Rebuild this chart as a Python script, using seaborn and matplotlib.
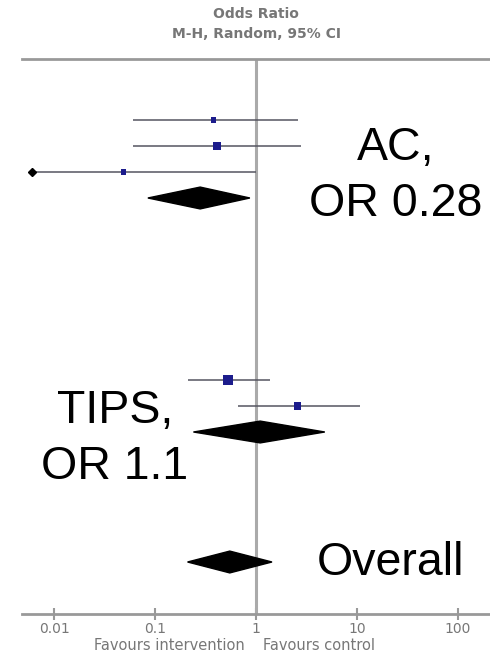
### Forest plot: AC vs TIPS, odds ratio ###

import numpy as np
import pandas as pd
import matplotlib
matplotlib.use('Agg')
import matplotlib.pyplot as plt
import seaborn as sns

# individual studies (row slot, OR, 95% CI, relative weight)
study_row = [0, 1, 2, 10, 11]
study_or = [0.38, 0.41, 0.049, 0.53, 2.6]
study_lo = [0.06, 0.06, 0.006, 0.21, 0.66]
study_hi = [2.6, 2.8, 1.0, 1.38, 10.7]
study_weight = [14, 22, 12, 40, 20]

# pooled estimates (diamonds)
pool_label = ['AC,\nOR 0.28', 'TIPS,\nOR 1.1', 'Overall']
pool_row = [3, 12, 17]
pool_or = [0.28, 1.1, 0.55]
pool_lo = [0.085, 0.24, 0.21]
pool_hi = [0.87, 4.8, 1.44]

tick_values = [0.01, 0.1, 1, 10, 100]
tick_labels = ['0.01', '0.1', '1', '10', '100']

sns.set_style('white')
plt.rcParams['font.family'] = ['Liberation Sans', 'DejaVu Sans']

fig = plt.figure(figsize=(4.9, 6.66), dpi=100)
ax = fig.add_axes([22 / 490, 1 - 614 / 666, 1 - 22 / 490, (614 - 59) / 666])

# null line
ax.axvline(1, color='#aaaaaa', lw=2.2, zorder=1)

# confidence intervals
ax.hlines(study_row, study_lo, study_hi, color='#555560', lw=1.1, zorder=2)
ax.plot(study_lo[2], study_row[2], marker='D', ms=4, color='black', zorder=3)

# study points
df = pd.DataFrame({'or': study_or, 'row': study_row, 'w': study_weight})
sns.scatterplot(data=df, x='or', y='row', size='w', sizes=(14, 55),
                marker='s', color='#1c1c8c', edgecolor='none',
                legend=False, ax=ax, zorder=3)

# pooled diamonds
h = 0.42
for r, est, lo, hi in zip(pool_row, pool_or, pool_lo, pool_hi):
    ax.fill([lo, est, hi, est], [r, r - h, r, r + h], color='black', zorder=4)

# annotations
text_pos = [(24.3, 1.54), (0.0402, 11.65), (21.7, 17.5)]
for label, (x, y) in zip(pool_label, text_pos):
    for i, line in enumerate(label.split('\n')):
        ax.text(x, y + i * 2.15, line, ha='center', va='baseline',
                fontsize=33.5, color='black', clip_on=False)

ax.set_xscale('log')
ax.set_xlim(10 ** -2.317, 10 ** 2.317)
ax.set_ylim(19.0, -2.346)
ax.set_xticks(tick_values)
ax.set_xticklabels(tick_labels)
ax.xaxis.set_minor_locator(matplotlib.ticker.NullLocator())
ax.set_yticks([])
ax.set_xlabel('')
ax.set_ylabel('')
ax.tick_params(axis='x', bottom=True, direction='inout', length=8, width=1.5,
               color='#999999', labelcolor='#777777', labelsize=10, pad=2)
for lab in ax.get_xticklabels():
    lab.set_family('DejaVu Sans')

for side in ['left', 'right']:
    ax.spines[side].set_visible(False)
for side in ['top', 'bottom']:
    ax.spines[side].set_color('#999999')
    ax.spines[side].set_linewidth(2)

# header
ax.text(1, -4.08, 'Odds Ratio', ha='center', va='center', fontsize=10,
        fontweight='bold', color='#777777', family='DejaVu Sans', clip_on=False)
ax.text(1, -3.31, 'M-H, Random, 95% CI', ha='center', va='center', fontsize=10,
        fontweight='bold', color='#777777', family='DejaVu Sans', clip_on=False)

# footer
ax.text(0.78, 20.23, 'Favours intervention', ha='right', va='center', fontsize=10.5,
        color='#777777', family='DejaVu Sans', clip_on=False)
ax.text(1.17, 20.23, 'Favours control', ha='left', va='center', fontsize=10.5,
        color='#777777', family='DejaVu Sans', clip_on=False)

fig.savefig('out.png', dpi=100)
